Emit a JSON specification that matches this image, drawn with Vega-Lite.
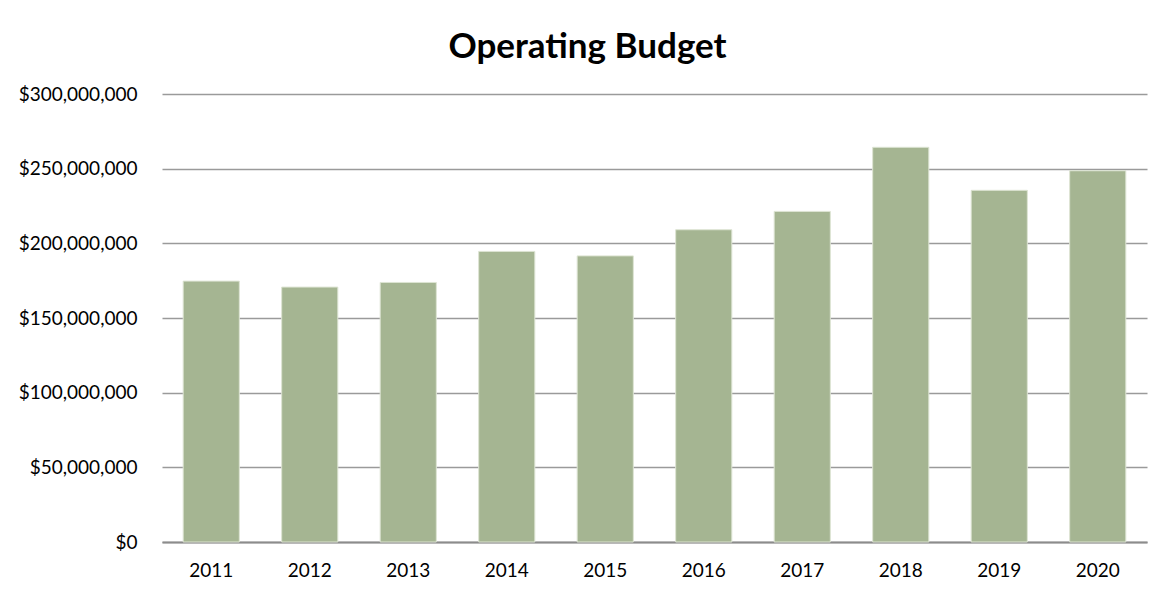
{
  "$schema": "https://vega.github.io/schema/vega-lite/v6.json",
  "autosize": {"type": "none"},
  "width": 985,
  "height": 448,
  "padding": {"left": 162, "top": 94, "right": 15, "bottom": 48},
  "background": "white",
  "title": {
    "text": "Operating Budget",
    "font": "Lato",
    "fontSize": 35,
    "fontWeight": "bold",
    "color": "#000000",
    "anchor": "middle",
    "dx": -67,
    "baseline": "alphabetic",
    "offset": -8
  },
  "data": {
    "values": [
      {"year": "2011", "budget": 174700000},
      {"year": "2012", "budget": 170700000},
      {"year": "2013", "budget": 173800000},
      {"year": "2014", "budget": 194600000},
      {"year": "2015", "budget": 191600000},
      {"year": "2016", "budget": 209100000},
      {"year": "2017", "budget": 221400000},
      {"year": "2018", "budget": 264300000},
      {"year": "2019", "budget": 235500000},
      {"year": "2020", "budget": 248600000}
    ]
  },
  "mark": {"type": "bar", "color": "#a5b592", "stroke": "#dde4d3", "strokeWidth": 1},
  "encoding": {
    "x": {
      "field": "year",
      "type": "nominal",
      "scale": {"paddingInner": 0.43, "paddingOuter": 0.215},
      "axis": {
        "title": null,
        "labelAngle": 0,
        "labelFont": "Lato",
        "labelFontSize": 19,
        "labelColor": "#000000",
        "labelPadding": 19,
        "ticks": false,
        "domainColor": "#8c8c8c",
        "domainWidth": 2
      }
    },
    "y": {
      "field": "budget",
      "type": "quantitative",
      "scale": {"domain": [0, 300000000], "nice": false},
      "axis": {
        "title": null,
        "values": [0, 50000000, 100000000, 150000000, 200000000, 250000000, 300000000],
        "format": "$,.0f",
        "labelFont": "Lato",
        "labelFontSize": 19,
        "labelColor": "#000000",
        "labelPadding": 25,
        "ticks": false,
        "domain": false,
        "grid": true,
        "gridColor": "#9a9a9a",
        "gridWidth": 1.5
      }
    }
  },
  "config": {"view": {"stroke": null}}
}
